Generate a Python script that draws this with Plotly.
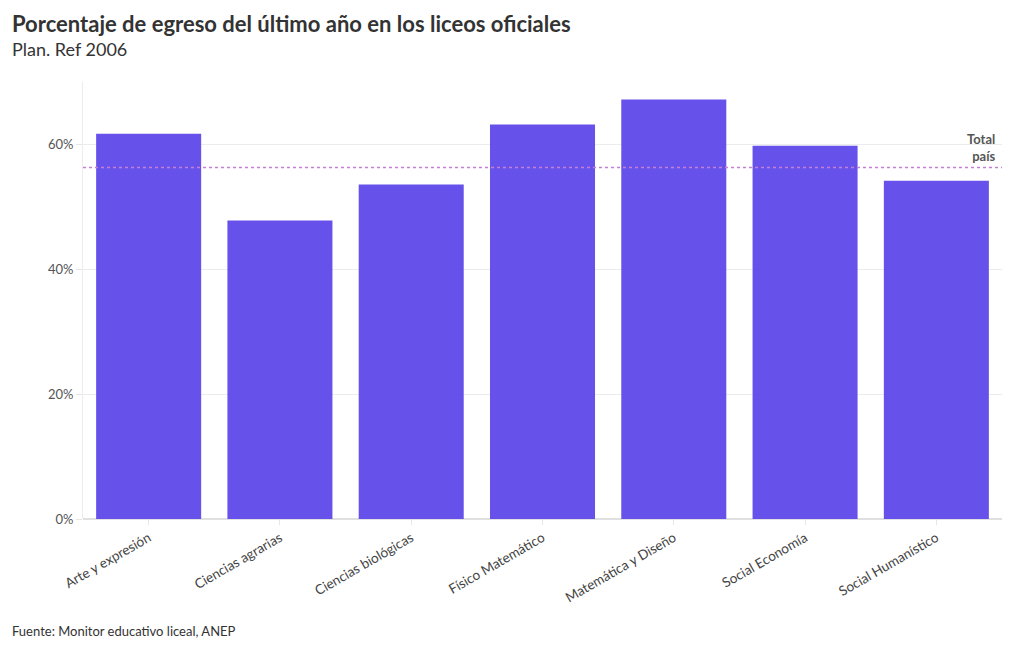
import plotly.graph_objects as go

categories = ["Arte y expresión", "Ciencias agrarias", "Ciencias biológicas",
              "Físico Matemático", "Matemática y Diseño", "Social Economía",
              "Social Humanístico"]
values = [61.7, 47.8, 53.6, 63.2, 67.2, 59.8, 54.2]
total_pais = 56.3
y_ticks = [0, 20, 40, 60]
y_tick_labels = ["0%", "20%", "40%", "60%"]

FONT = "Lato"
W, H = 1004, 634
L, R, T, B = 75, 10, 74, 123
PW, PH = W - L - R, H - T - B


def py(p):
    return (H - B - p) / PH


def px(p):
    return (p - L) / PW


fig = go.Figure()
fig.add_trace(go.Bar(
    x=categories, y=values,
    marker=dict(color="#5a45e8", opacity=0.93, line=dict(width=0)),
    hovertemplate="%{x}: %{y:.1f}%<extra></extra>",
))

fig.add_shape(type="line", xref="paper", yref="y", x0=0, x1=1,
              y0=total_pais, y1=total_pais,
              line=dict(color="#c47fd5", width=1.5, dash="dot"))

fig.update_layout(
    width=W, height=H,
    margin=dict(l=L, r=R, t=T, b=B),
    paper_bgcolor="white", plot_bgcolor="white",
    font=dict(family=FONT, size=13, color="#555555"),
    bargap=0.2,
    showlegend=False,
    xaxis=dict(tickangle=-30, ticks="outside", ticklen=5, tickcolor="#e6e6e6",
               showline=False, showgrid=False, tickfont=dict(size=13.5, color="#444444")),
    yaxis=dict(range=[0, 70], tickvals=y_ticks, ticktext=y_tick_labels,
               ticks="outside", ticklen=6, tickcolor="#e6e6e6",
               gridcolor="#ececec", showline=True, linecolor="#ececec",
               zeroline=True, zerolinecolor="#e0e0e0",
               tickfont=dict(size=13, color="#555555")),
)

fig.add_annotation(xref="paper", yref="paper", x=px(2), y=py(0),
                   xanchor="left", yanchor="top", showarrow=False,
                   text="<b>Porcentaje de egreso del último año en los liceos oficiales</b>",
                   font=dict(family=FONT, size=22, color="#333333"))
fig.add_annotation(xref="paper", yref="paper", x=px(2), y=py(28),
                   xanchor="left", yanchor="top", showarrow=False,
                   text="Plan. Ref 2006",
                   font=dict(family=FONT, size=18, color="#333333"))
fig.add_annotation(xref="paper", yref="y", x=0.9953, y=total_pais,
                   text="<b>Total<br>país</b>", showarrow=False,
                   xanchor="right", yanchor="bottom", align="right",
                   yshift=2, font=dict(family=FONT, size=13, color="#555555"))
fig.add_annotation(xref="paper", yref="paper", x=px(2), y=py(613),
                   xanchor="left", yanchor="top", showarrow=False,
                   text="Fuente: Monitor educativo liceal, ANEP",
                   font=dict(family=FONT, size=13, color="#333333"))

fig.write_html("out.html")
